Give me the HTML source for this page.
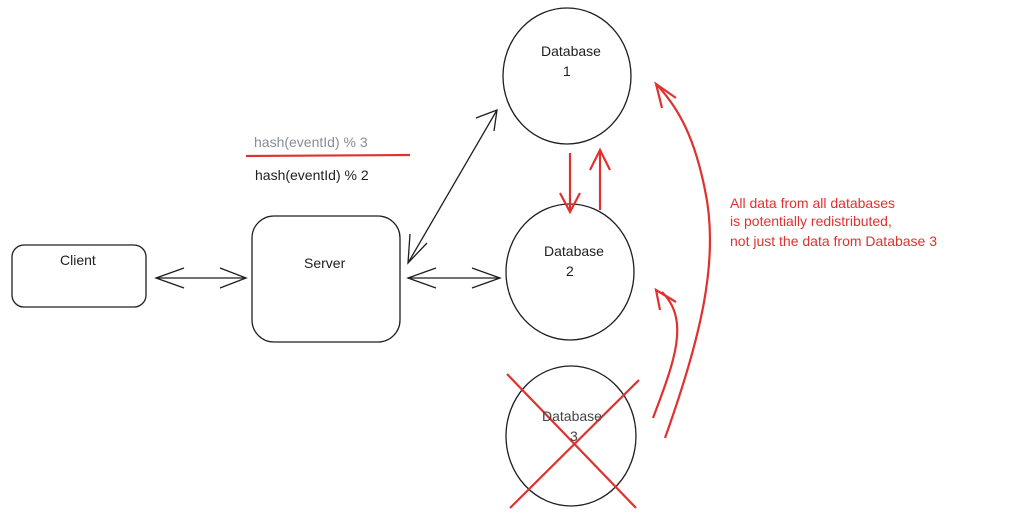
<!DOCTYPE html>
<html><head><meta charset="utf-8"><style>
html,body{margin:0;padding:0;background:#fff;width:1034px;height:521px;overflow:hidden}
svg text{font-family:"Liberation Sans",sans-serif;font-size:14px;fill:#1e1e1e}
</style></head><body>
<svg width="1034" height="521" viewBox="0 0 1034 521">
<g fill="none" stroke="#1e1e1e" stroke-width="1.3">
<rect x="12" y="245" width="134" height="62" rx="12"/>
<rect x="252" y="216" width="148" height="126" rx="22"/>
<ellipse cx="567" cy="76" rx="64" ry="68"/>
<ellipse cx="570" cy="272" rx="64" ry="68"/>
<ellipse cx="571" cy="436" rx="65" ry="70"/>
<!-- client-server -->
<line x1="156" y1="278" x2="246" y2="278"/>
<polyline points="184,268 156,278 184,288"/>
<polyline points="220,268 246,278 220,288"/>
<!-- server-db2 -->
<line x1="408" y1="278" x2="500" y2="278"/>
<polyline points="436,268 408,278 436,288"/>
<polyline points="472,268 500,278 472,288"/>
<!-- server-db1 -->
<line x1="408" y1="263" x2="497" y2="110"/>
<polyline points="410,234 408,263 427,243"/>
<polyline points="476,118 497,110 494,131"/>
</g>
<g fill="none" stroke="#e03131" stroke-width="2.2">
<line x1="246" y1="156" x2="410" y2="155"/>
<line x1="570" y1="153" x2="570" y2="212"/>
<polyline points="560,193 570,212 580,193"/>
<line x1="600" y1="210" x2="600" y2="150"/>
<polyline points="590,170 600,150 610,170"/>
<path d="M653 418 C675 360 690 320 662 292"/>
<polyline points="660,310 656,290 676,302"/>
<path d="M665 438 C700 340 720 260 705 190 C695 140 680 110 658 86"/>
<polyline points="662,108 656,84 676,98"/>
<line x1="507" y1="374" x2="636" y2="508"/>
<line x1="639" y1="380" x2="510" y2="508"/>
</g>
<text x="254" y="147" fill="#868e96" style="fill:#868e96">hash(eventId) % 3</text>
<text x="255" y="180">hash(eventId) % 2</text>
<text x="60" y="265">Client</text>
<text x="304" y="268">Server</text>
<text x="541" y="56">Database</text><text x="563" y="76">1</text>
<text x="544" y="256">Database</text><text x="566" y="276">2</text>
<text x="542" y="421" style="fill:#444">Database</text><text x="570" y="441" style="fill:#444">3</text>
<text x="730" y="208" style="fill:#e03131">All data from all databases</text>
<text x="730" y="226" style="fill:#e03131">is potentially redistributed,</text>
<text x="730" y="246" style="fill:#e03131">not just the data from Database 3</text>
</svg>
</body></html>
